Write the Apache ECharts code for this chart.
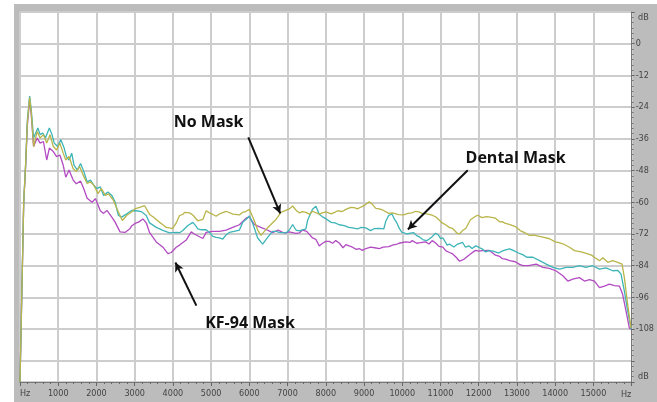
<!DOCTYPE html>
<html><head><meta charset="utf-8">
<script src="https://cdn.jsdelivr.net/npm/echarts@6/dist/echarts.min.js"></script>
<style>html,body{margin:0;padding:0;background:#fff}#c{width:657px;height:402px}</style>
</head><body><div id="c"></div>
<script>
// [Hz, dB]
const noMask = [[0,-128],[97,-60],[149,-45],[192,-30],[252,-20.4],[295,-26],[355,-38.9],[450,-33.2],[527,-35.7],[613,-34.4],[699,-37.6],[785,-34.4],[871,-38.9],[957,-40.2],[1043,-37.6],[1129,-41.4],[1198,-44],[1284,-42.7],[1387,-47.2],[1473,-48.4],[1559,-46.5],[1671,-50.3],[1757,-52.9],[1843,-52.3],[1929,-53.5],[2041,-56.7],[2127,-54.8],[2230,-57.4],[2316,-56.8],[2445,-59.3],[2574,-63.7],[2677,-66.9],[2789,-65],[2918,-63.7],[3000,-62.5],[3130,-61.9],[3260,-61.3],[3391,-64.6],[3478,-65.5],[3652,-67.6],[3739,-68.5],[3826,-69.5],[3913,-69.7],[3990,-70],[4087,-67.8],[4174,-65],[4261,-64.6],[4304,-63.8],[4435,-64],[4520,-64.8],[4652,-67],[4783,-66.5],[4870,-63.2],[4957,-64],[5044,-64.6],[5130,-65.3],[5217,-64.4],[5392,-63.4],[5435,-63.2],[5570,-64.5],[5740,-64.8],[5826,-63.8],[5914,-63.4],[6001,-62.7],[6131,-67],[6218,-70.5],[6304,-72.5],[6392,-71],[6523,-69],[6697,-66.5],[6826,-63.8],[6871,-63.4],[7045,-62.5],[7132,-61.4],[7220,-63],[7306,-64],[7390,-63.5],[7480,-63.8],[7570,-64.5],[7654,-63.4],[7828,-64.5],[7910,-64],[8002,-63.6],[8140,-64.4],[8230,-63.8],[8312,-63.2],[8430,-63.5],[8524,-62.7],[8656,-61.9],[8740,-62],[8828,-62.5],[8920,-61.8],[9000,-61.3],[9133,-59.8],[9200,-60.5],[9307,-62.3],[9400,-62.5],[9500,-63],[9645,-64.2],[9740,-64],[9860,-64.5],[9913,-64.7],[10032,-64.8],[10150,-64.2],[10247,-64],[10350,-63.4],[10435,-63.6],[10520,-64.2],[10609,-64.3],[10699,-64.6],[10783,-64.9],[10873,-65.5],[10957,-66.6],[11047,-67.8],[11131,-68.5],[11230,-69.5],[11322,-70],[11436,-71.7],[11494,-72],[11570,-70.8],[11666,-69.8],[11783,-66.6],[11900,-65.5],[11967,-64.9],[12088,-65.8],[12200,-65.4],[12300,-65.6],[12436,-66],[12548,-67.4],[12610,-67.3],[12700,-68],[12800,-68.4],[12958,-69.2],[13085,-70.7],[13200,-71.5],[13330,-72.5],[13450,-72.4],[13560,-72.8],[13679,-73.2],[13853,-73.8],[14000,-75],[14100,-75.3],[14200,-75.7],[14375,-77],[14505,-78.3],[14680,-78.8],[14853,-79.5],[14950,-80],[15027,-80.8],[15158,-82.1],[15250,-81],[15375,-82.7],[15506,-82.1],[15636,-82.7],[15750,-83.4],[15810,-88.5],[15897,-98.7],[15984,-107.6]];

const dentalMask = [[0,-128],[97,-60],[149,-45],[192,-29],[252,-19.8],[295,-25],[355,-35.7],[467,-31.9],[527,-34.4],[596,-33.8],[665,-35.7],[768,-31.9],[837,-34.4],[897,-37.6],[983,-38.9],[1069,-36.3],[1155,-39.5],[1215,-42.7],[1284,-44],[1353,-41.4],[1413,-45.9],[1499,-47.8],[1585,-45.3],[1671,-48.4],[1757,-52.3],[1843,-51.6],[1929,-53.5],[2015,-54.8],[2101,-54.2],[2187,-57.4],[2299,-56.1],[2402,-57.4],[2488,-59.9],[2574,-65],[2660,-65.6],[2789,-64.4],[2918,-63.1],[3050,-63.2],[3170,-63.5],[3304,-65],[3391,-67.8],[3565,-69.5],[3739,-70.6],[3913,-71.6],[3957,-72],[4087,-71.4],[4174,-71.5],[4261,-70.7],[4391,-68.8],[4435,-69.5],[4522,-67.6],[4609,-69.1],[4652,-70.1],[4740,-70.4],[4870,-70.4],[4957,-71.4],[5044,-72.9],[5130,-73.3],[5218,-73.5],[5304,-73.9],[5392,-72.3],[5478,-71.4],[5600,-71],[5740,-70.5],[5826,-67.6],[5914,-66.5],[6000,-65.2],[6090,-68],[6218,-73.5],[6348,-75.8],[6392,-76.3],[6478,-73.3],[6609,-71],[6700,-71],[6783,-71.4],[6958,-71.6],[7045,-70.5],[7132,-68.4],[7220,-70.5],[7306,-70.8],[7393,-70.4],[7478,-70.1],[7524,-66.8],[7652,-62.6],[7741,-61.5],[7828,-64.5],[7910,-65.5],[8002,-66.2],[8140,-67.6],[8240,-67.8],[8350,-68.5],[8484,-68.8],[8600,-69.5],[8698,-69.7],[8828,-70.1],[8920,-69.5],[9046,-69.7],[9172,-70.7],[9260,-70],[9394,-69.9],[9516,-70.1],[9568,-67.2],[9645,-65],[9731,-64.4],[9800,-66.5],[9860,-67.8],[9916,-69.7],[9989,-71.4],[10047,-71.6],[10118,-72],[10218,-71.7],[10300,-71.5],[10376,-72.6],[10440,-73],[10548,-74.2],[10650,-74.5],[10783,-73],[10870,-71.7],[10950,-72.5],[11000,-73.7],[11064,-73.5],[11175,-76.2],[11236,-75.8],[11349,-76.9],[11450,-75.8],[11580,-75.2],[11653,-77],[11750,-76.5],[11827,-77.5],[11924,-76.5],[12000,-77],[12096,-77.7],[12175,-78.8],[12268,-78.3],[12380,-78.5],[12523,-79.2],[12612,-78.5],[12700,-78],[12809,-77.6],[12900,-78.2],[13042,-79.2],[13150,-79.8],[13257,-80.8],[13418,-80.8],[13592,-82.1],[13766,-83.4],[13940,-84.6],[14114,-85.3],[14288,-84.6],[14460,-84.6],[14636,-84],[14800,-84.6],[14984,-84],[15158,-85.3],[15330,-84.8],[15506,-85.9],[15640,-85.8],[15723,-87.2],[15810,-93.6],[15897,-101.2],[15990,-108]];

const kf94Mask = [[0,-128],[97,-60],[149,-46],[192,-31],[252,-21.2],[295,-27],[355,-38.9],[450,-35.7],[527,-37.6],[613,-37],[699,-44],[768,-39.5],[871,-40.8],[957,-42.7],[1043,-42.1],[1129,-45.9],[1198,-50.5],[1284,-47.8],[1387,-51.5],[1473,-53],[1585,-52],[1671,-55],[1757,-58.5],[1886,-60],[1972,-58.6],[2101,-63.2],[2187,-64.2],[2273,-63.1],[2402,-65.6],[2488,-67.5],[2617,-71.2],[2746,-71.4],[2875,-70],[2918,-69],[3010,-68],[3100,-67.5],[3217,-66.3],[3310,-68],[3391,-71.5],[3565,-75],[3739,-77],[3870,-79.4],[3957,-79],[4087,-77],[4174,-76.2],[4348,-74.3],[4479,-71.2],[4560,-72],[4783,-73.7],[4870,-71.4],[5044,-71],[5218,-71],[5392,-70.5],[5565,-69.5],[5740,-68.5],[5914,-66],[6001,-65.5],[6131,-68.4],[6300,-69.5],[6436,-70.3],[6610,-71.5],[6750,-70.5],[6870,-71.4],[6958,-71.6],[7043,-71.2],[7217,-71.8],[7306,-71.6],[7391,-70.5],[7500,-71],[7654,-73.5],[7739,-74],[7828,-76.5],[7913,-75.5],[8002,-74.8],[8087,-74.8],[8180,-75.5],[8260,-74.5],[8350,-75.4],[8398,-76],[8450,-77.2],[8524,-76],[8610,-76.5],[8698,-77],[8800,-77.8],[8872,-77.5],[8957,-78.2],[9050,-77.5],[9172,-77],[9280,-77.2],[9400,-77.5],[9500,-77],[9645,-76.8],[9750,-76.2],[9860,-75.8],[9916,-75.5],[10087,-75],[10204,-75.2],[10261,-74.5],[10376,-75.5],[10480,-75.3],[10609,-75],[10700,-75.8],[10783,-74.5],[10880,-75.5],[10960,-76.7],[11064,-77],[11134,-78.3],[11236,-79],[11305,-79.4],[11408,-80.8],[11500,-82.3],[11537,-82.5],[11620,-81.5],[11783,-79.6],[11914,-78.2],[12000,-78.5],[12096,-78.3],[12262,-78.2],[12350,-79],[12436,-80],[12548,-80.5],[12612,-81.3],[12700,-81.5],[12809,-82.1],[12956,-82.5],[13070,-83.5],[13157,-84],[13300,-84],[13505,-83.4],[13679,-84.6],[13850,-85],[14027,-86],[14200,-87.8],[14331,-89.8],[14480,-89],[14636,-88.5],[14766,-89.8],[14900,-89.3],[15027,-89.8],[15158,-92.3],[15288,-91.7],[15419,-91],[15550,-91.5],[15680,-91.7],[15767,-94.9],[15854,-101.2],[15941,-107.6],[15990,-108]];

const seriesNames = ['KF-94 Mask', 'Dental Mask', 'No Mask'];
// annotation arrows: [textAt, arrowTail, arrowHead] in [Hz, dB]
const annNoMask = [[4933,-29.7],[5972,-35.4],[6807,-64.2]];
const annDental = [[12965,-43.4],[11713,-47.9],[10147,-70.3]];
const annKF94 = [[6017,-105.9],[4614,-99.1],[4066,-82.8]];

const chart = echarts.init(document.getElementById('c'));
const narrow = "'Liberation Sans Narrow','DejaVu Sans Condensed',sans-serif";
const arrowItem = a => [{coord:a[1]},{coord:a[2]}];
const textItem = (a, n) => ({coord:a[0], name:n});

chart.setOption({
  animation:false,
  backgroundColor:'#bcbcbc',
  graphic:[
    {type:'rect', shape:{x:0,y:0,width:14,height:402}, style:{fill:'#ffffff'}, silent:true},
    {type:'rect', shape:{x:0,y:0,width:657,height:4}, style:{fill:'#ffffff'}, silent:true},
    {type:'text', left:638, top:13, style:{text:'dB', fill:'#444', font:"9px "+narrow}},
    {type:'text', left:638, top:372, style:{text:'dB', fill:'#444', font:"9px "+narrow}},
    {type:'text', left:621, top:390, style:{text:'Hz', fill:'#444', font:"9px "+narrow}}
  ],
  grid:{left:20, right:24, top:12, bottom:20, show:true, backgroundColor:'#ffffff', borderWidth:0},
  xAxis:{type:'value', min:0, max:16000, interval:1000,
    axisLine:{show:true, onZero:false, lineStyle:{color:'#777', width:1}},
    axisTick:{show:true, length:4, lineStyle:{color:'#666'}},
    minorTick:{show:true, splitNumber:5, length:2, lineStyle:{color:'#666'}},
    splitLine:{show:true, lineStyle:{color:'#cdcdcd', width:2}},
    axisLabel:{color:'#444', fontSize:9, fontFamily:narrow, margin:7, alignMinLabel:'left',
      formatter:v => v===0 ? 'Hz' : (v===16000 ? '' : String(v))}
  },
  yAxis:[
    {type:'value', min:-128, max:12, show:false},
    {type:'value', min:0, max:140, interval:12, inverse:true, position:'right',
      axisLine:{show:true, onZero:false, lineStyle:{color:'#777', width:1}},
      axisTick:{show:true, length:3, lineStyle:{color:'#666'}},
      minorTick:{show:true, splitNumber:6, length:2, lineStyle:{color:'#777'}},
      splitLine:{show:true, lineStyle:{color:'#cdcdcd', width:2}},
      axisLabel:{color:'#444', fontSize:9, fontFamily:narrow, margin:4,
        formatter:v => (v>=12 && v<=120) ? String(12-v) : ''}
    }
  ],
  series:[
    {name:seriesNames[0], type:'line', data:kf94Mask, yAxisIndex:0, showSymbol:false, symbol:'none',
      lineStyle:{color:'#b24bc2', width:1.3}, itemStyle:{color:'#b24bc2'}, z:2},
    {name:seriesNames[1], type:'line', data:dentalMask, yAxisIndex:0, showSymbol:false, symbol:'none',
      lineStyle:{color:'#3db4b8', width:1.3}, itemStyle:{color:'#3db4b8'}, z:3},
    {name:seriesNames[2], type:'line', data:noMask, yAxisIndex:0, showSymbol:false, symbol:'none',
      lineStyle:{color:'#b9b54a', width:1.3}, itemStyle:{color:'#b9b54a'}, z:4,
      markLine:{silent:true, symbol:['none','arrow'], symbolSize:[7,9], animation:false,
        lineStyle:{color:'#111', width:2, type:'solid'}, label:{show:false},
        data:[arrowItem(annNoMask), arrowItem(annDental), arrowItem(annKF94)]},
      markPoint:{silent:true, symbol:'circle', symbolSize:1, itemStyle:{color:'rgba(0,0,0,0)'},
        label:{show:true, position:'inside', formatter:'{b}', color:'#111', fontSize:16, fontWeight:'bold', fontFamily:"'Open Sans',sans-serif"},
        data:[textItem(annNoMask,'No Mask'), textItem(annDental,'Dental Mask'), textItem(annKF94,'KF-94 Mask')]}
    }
  ]
});
</script></body></html>
